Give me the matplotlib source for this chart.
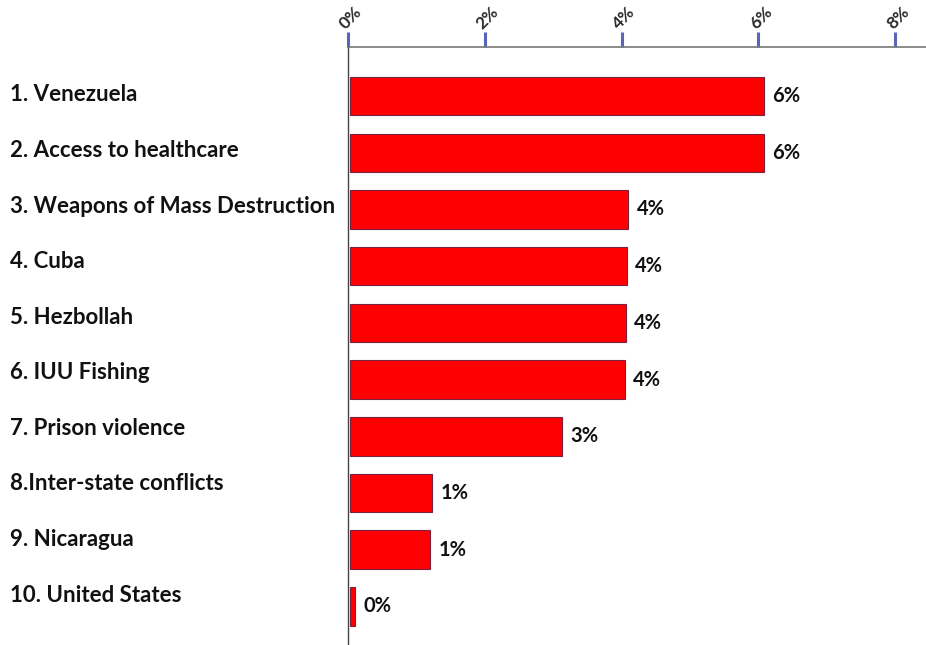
import matplotlib
matplotlib.use("Agg")
import matplotlib.pyplot as plt
import matplotlib.transforms as mtransforms

# Top-10 issues and their shares (percent)
categories = [
    "1. Venezuela",
    "2. Access to healthcare",
    "3. Weapons of Mass Destruction",
    "4. Cuba",
    "5. Hezbollah",
    "6. IUU Fishing",
    "7. Prison violence",
    "8.Inter-state conflicts",
    "9. Nicaragua",
    "10. United States",
]
shares = [6.05, 6.05, 4.07, 4.05, 4.03, 4.02, 3.1, 1.2, 1.17, 0.07]
tick_values = [0, 2, 4, 6, 8]
tick_labels = ["0%", "2%", "4%", "6%", "8%"]

plt.rcParams["font.family"] = ["Lato", "DejaVu Sans"]

fig = plt.figure(figsize=(9.26, 6.45), dpi=100)
ax = fig.add_axes([0.3758, 0.0, 0.6242, 0.927])

ypos = list(range(len(categories)))
ax.barh(ypos, shares, height=0.68, color="#ff0000", edgecolor="#7a2040",
        linewidth=0.8, left=0.03)

ax.set_xlim(0, 8.45)
ax.set_ylim(9.68, -0.864)

# value axis along the top
ax.xaxis.tick_top()
ax.set_xticks(tick_values)
ax.set_xticklabels(tick_labels, rotation=45, fontsize=12.5, fontweight="bold",
                   color="#2a2a2a", ha="center", va="bottom")
ax.tick_params(axis="x", which="major", length=11, width=2.2, color="#5566bb",
               pad=0)
ax.xaxis.get_major_ticks()[-1].tick2line.set_color("#777777")
shift = mtransforms.ScaledTranslation(2 / 72, 0, fig.dpi_scale_trans)
for lbl in ax.get_xticklabels():
    lbl.set_transform(lbl.get_transform() + shift)

ax.set_yticks([])
for side in ("right", "bottom"):
    ax.spines[side].set_visible(False)
ax.spines["top"].set_color("#777777")
ax.spines["top"].set_linewidth(1.2)
ax.spines["left"].set_color("#444444")
ax.spines["left"].set_linewidth(1.0)

# category names, left-aligned at the figure edge
label_tf = mtransforms.blended_transform_factory(fig.transFigure, ax.transData)
for y, name in zip(ypos, categories):
    ax.text(0.011, y - 0.02 - 0.02 * y, name, transform=label_tf, ha="left",
            va="center", fontsize=16, fontweight="bold", color="#111111")

# value annotations at the bar ends
for y, v in zip(ypos, shares):
    ax.text(v + 0.03 + 0.12, y, f"{v:.0f}%", ha="left", va="center",
            fontsize=14.5, fontweight="bold", color="#111111")

fig.savefig("out.png", dpi=100, facecolor="white")
